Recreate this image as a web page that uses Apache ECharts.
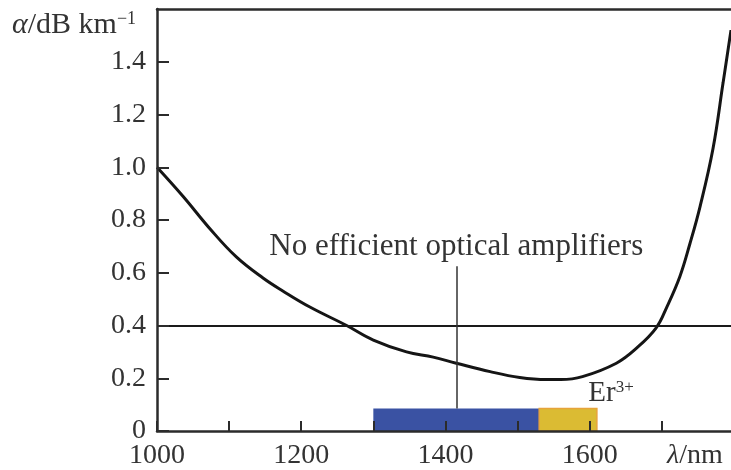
<!DOCTYPE html>
<html>
<head>
<meta charset="utf-8">
<script src="https://cdn.jsdelivr.net/npm/echarts@6/dist/echarts.min.js"></script>
<style>
  html, body { margin: 0; padding: 0; background: #fff; }
  #chart { width: 731px; height: 470px; }
</style>
</head>
<body>
<div id="chart"></div>
<script>
// attenuation curve
const wavelengths = [1000, 1036, 1074, 1110, 1147, 1175, 1212, 1263, 1300, 1346, 1383, 1415, 1462, 1503, 1540, 1560, 1590, 1637, 1665, 1692, 1707, 1725, 1739, 1753, 1771, 1785, 1796];
const attenuation = [1.0, 0.89, 0.765, 0.66, 0.58, 0.53, 0.47, 0.40, 0.345, 0.30, 0.28, 0.257, 0.225, 0.203, 0.195, 0.195, 0.206, 0.257, 0.314, 0.39, 0.47, 0.585, 0.71, 0.85, 1.07, 1.32, 1.52];

const xTicks = [1000, 1100, 1200, 1300, 1400, 1500, 1600, 1700];
const xLabels = [1000, 1200, 1400, 1600];
const yTicks = [0, 0.2, 0.4, 0.6, 0.8, 1.0, 1.2, 1.4];

const noAmpBand = [1300, 1530];
const erBand = [1530, 1610];
const bandTop = 0.085;
const level = 0.4;
const markerX = 1415;
const markerTop = 0.625;

const font = "'Liberation Serif', 'DejaVu Serif', serif";
const ink = "#2b2b2b";

const chart = echarts.init(document.getElementById("chart"), null, {
  renderer: "canvas",
});

const axisLine = { show: true, lineStyle: { color: ink, width: 2.5 } };

const option = {
  animation: false,
  grid: { left: 157, right: 0, top: 9, bottom: 39 },
  xAxis: [
    {
      type: "value",
      min: 1000,
      max: 1796,
      interval: 100,
      z: 5,
      axisLine: axisLine,
      axisTick: {
        show: true,
        inside: true,
        length: 10,
        customValues: xTicks,
        lineStyle: { color: ink, width: 2 },
      },
      axisLabel: {
        customValues: xLabels,
        margin: 11,
        color: "#333",
        fontFamily: font,
        fontSize: 28,
        formatter: (v) => String(v),
      },
      splitLine: { show: false },
    },
    {
      type: "value",
      position: "top",
      min: 1000,
      max: 1796,
      axisLine: axisLine,
      axisTick: { show: false },
      axisLabel: { show: false },
      splitLine: { show: false },
    },
  ],
  yAxis: {
    type: "value",
    min: 0,
    max: 1.6,
    interval: 0.2,
    z: 5,
    axisLine: axisLine,
    axisTick: {
      show: true,
      inside: true,
      length: 12,
      customValues: yTicks,
      lineStyle: { color: ink, width: 2 },
    },
    axisLabel: {
      customValues: yTicks,
      margin: 11,
      color: "#333",
      fontFamily: font,
      fontSize: 28,
      formatter: (v) => (v === 0 ? "0" : v.toFixed(1)),
    },
    splitLine: { show: false },
  },
  graphic: [
    {
      type: "text",
      left: 12,
      top: 10,
      style: {
        text: "{i|α}/dB km{s|−1}",
        fill: "#333",
        font: "30px " + font,
        rich: {
          i: { fontFamily: font, fontSize: 30, fontStyle: "italic", fill: "#333" },
          s: { fontFamily: font, fontSize: 18, verticalAlign: "top", fill: "#333" },
        },
      },
    },
    {
      type: "text",
      left: 667,
      top: 442,
      style: {
        text: "{i|λ}/nm",
        fill: "#333",
        font: "28px " + font,
        rich: {
          i: { fontFamily: font, fontSize: 28, fontStyle: "italic", fill: "#333" },
        },
      },
    },
  ],
  series: [
    {
      type: "line",
      data: wavelengths.map((x, i) => [x, attenuation[i]]),
      smooth: 0.4,
      symbol: "none",
      z: 3,
      lineStyle: { color: "#151515", width: 3 },
      markArea: {
        silent: true,
        data: [
          [
            { xAxis: noAmpBand[0], yAxis: 0, itemStyle: { color: "#3a52a3" } },
            { xAxis: noAmpBand[1], yAxis: bandTop },
          ],
          [
            {
              xAxis: erBand[0],
              yAxis: 0,
              itemStyle: { color: "#dbbb33", borderColor: "#e6a33a", borderWidth: 1.5 },
              label: {
                show: true,
                position: "top",
                offset: [43, 5],
                formatter: "{b|Er}{s|3+}",
                rich: {
                  b: { fontFamily: font, fontSize: 29, color: "#333" },
                  s: { fontFamily: font, fontSize: 17, color: "#333", verticalAlign: "top" },
                },
              },
            },
            { xAxis: erBand[1], yAxis: bandTop },
          ],
        ],
      },
      markLine: {
        silent: true,
        symbol: "none",
        animation: false,
        data: [
          {
            yAxis: level,
            lineStyle: { color: "#1a1a1a", width: 2, type: "solid" },
            label: { show: false },
          },
          [
            {
              coord: [markerX, bandTop],
              lineStyle: { color: "#333", width: 1.5, type: "solid" },
            },
            {
              coord: [markerX, markerTop],
              label: {
                show: true,
                position: "end",
                distance: 4,
                formatter: "No efficient optical amplifiers",
                fontFamily: font,
                fontSize: 31,
                color: "#333",
              },
            },
          ],
        ],
      },
    },
  ],
};
chart.setOption(option);
</script>
</body>
</html>
